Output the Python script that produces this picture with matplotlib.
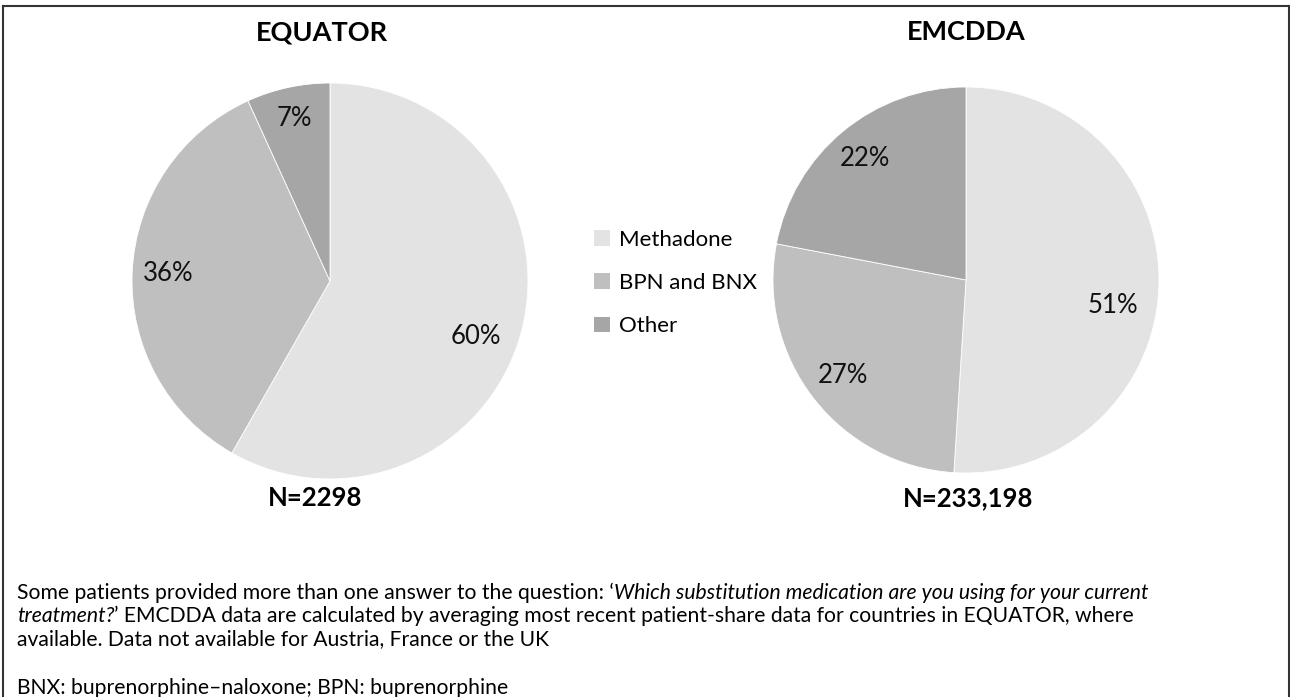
import matplotlib
matplotlib.use("Agg")
import matplotlib.pyplot as plt
from matplotlib.lines import Line2D
from matplotlib.patches import Patch
import numpy as np

plt.rcParams['font.family'] = ['Lato', 'DejaVu Sans']

# ---- data ----
categories = ["Methadone", "BPN and BNX", "Other"]
equator_values = [60, 36, 7]
emcdda_values = [51, 27, 22]
titles = ["EQUATOR", "EMCDDA"]
n_labels = ["N=2298", "N=233,198"]
colors = ["#e3e3e3", "#bfbfbf", "#a6a6a6"]

footnote_lines = [
    [("Some patients provided more than one answer to the question: \u2018", "normal"),
     ("Which substitution medication are you using for your current", "italic")],
    [("treatment?", "italic"),
     ("\u2019 EMCDDA data are calculated by averaging most recent patient-share data for countries in EQUATOR, where", "normal")],
    [("available. Data not available for Austria, France or the UK", "normal")],
]
abbrev = "BNX: buprenorphine\u2013naloxone; BPN: buprenorphine"

W, H = 1290, 697
fig = plt.figure(figsize=(W / 100, H / 100), dpi=100)
ax = fig.add_axes([0, 0, 1, 1])

# pie layout (pixel coords, y up)
pies = [
    dict(values=equator_values, center=(330, H - 281), radius=198,
         lab_r=[0.79, 0.82, 0.84], lab_dth=[-6, 0, 0], title_x=322, n_x=315),
    dict(values=emcdda_values, center=(966, H - 280), radius=193,
         lab_r=[0.77, 0.81, 0.82], lab_dth=[-8, 0, 0], title_x=966, n_x=968),
]

for i, p in enumerate(pies):
    wedges, _ = ax.pie(p["values"], colors=colors, startangle=90, counterclock=False,
                       center=p["center"], radius=p["radius"],
                       wedgeprops=dict(edgecolor="white", linewidth=0.6))
    cx, cy = p["center"]
    for w, v, fr, dth in zip(wedges, p["values"], p["lab_r"], p["lab_dth"]):
        mid = np.deg2rad((w.theta1 + w.theta2) / 2 + dth)
        ax.text(cx + fr * p["radius"] * np.cos(mid), cy + fr * p["radius"] * np.sin(mid),
                f"{v}%", ha="center", va="center", fontsize=18.5, color="#111111")
    ax.text(p["title_x"], H - 32.5, titles[i], ha="center", va="center", fontsize=19.5,
            fontweight="bold", color="black")
    ax.text(p["n_x"], H - 498, n_labels[i], ha="center", va="center", fontsize=18.5,
            fontweight="bold", color="black")

ax.set_xlim(0, W)
ax.set_ylim(0, H)
ax.set_aspect("equal")
ax.axis("off")

# legend
handles = [Patch(facecolor=c, edgecolor="none") for c in colors]
leg = ax.legend(handles, categories, loc="center left",
                bbox_to_anchor=(583 / W, 1 - 283 / H), bbox_transform=fig.transFigure,
                frameon=False, fontsize=16, handlelength=0.7, handleheight=0.7,
                handletextpad=0.4, labelspacing=1.05, borderpad=0)

# footnote
renderer = fig.canvas.get_renderer()
fs = 15.2
y0 = H - 593
for k, line in enumerate(footnote_lines):
    x = 17
    for txt, style in line:
        t = ax.text(x, y0 - 23 * k, txt, ha="left", va="center", fontsize=fs,
                    fontstyle=style, color="black")
        bb = t.get_window_extent(renderer=renderer)
        x += bb.width
ax.text(17, H - 688, abbrev, ha="left", va="center", fontsize=fs, color="black")

# frame (left, top, right)
for xs, ys in [([2.5, 2.5], [0, H - 6]), ([2.5, 1288.5], [H - 6, H - 6]),
               ([1288.5, 1288.5], [0, H - 6])]:
    fig.add_artist(Line2D([x / W for x in xs], [y / H for y in ys], color="#333333",
                          lw=1.5, transform=fig.transFigure))

fig.savefig("out.png", dpi=100)
